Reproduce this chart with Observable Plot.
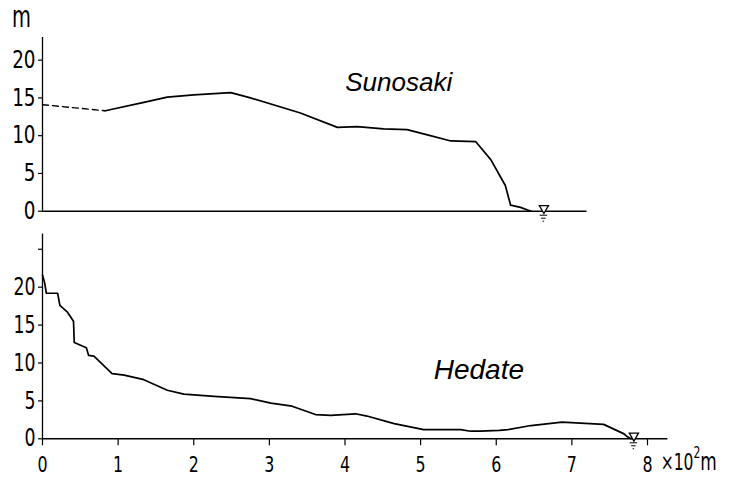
<!DOCTYPE html>
<html><head><meta charset="utf-8">
<script src="https://cdn.jsdelivr.net/npm/d3@7"></script>
<script src="https://cdn.jsdelivr.net/npm/@observablehq/plot@0.6"></script>
<style>
body{margin:0;background:#fff;}
#wrap{position:relative;width:741px;height:478px;}
#topPanel,#botPanel{position:absolute;left:0;}
#topPanel{top:0px}
#botPanel{top:230px}
.lbl{position:absolute;font-family:"DejaVu Sans Condensed","DejaVu Sans",sans-serif;color:#000;line-height:1;white-space:nowrap;}
</style></head><body>
<div id="wrap">
<div id="topPanel"></div><div id="botPanel"></div>
<div class="lbl" style="left:12px;top:2px;font-size:30px;transform-origin:left top;transform:scaleX(0.72);">m</div>
<div class="lbl" style="right:24px;top:449px;font-size:23px;line-height:26px;transform-origin:right top;transform:scaleX(0.75);"><span>×</span>10<span style="font-size:16px;position:relative;top:-12px;">2</span><span style="font-size:25px;">m</span></div>
</div>
<script>
// Sunosaki profile (x in 10^2 m, elevation in m)
const sunoDashX = [0, 0.83];
const sunoDashY = [14.1, 13.3];
const sunoX = [0.83, 1.34, 1.65, 2.0, 2.49, 2.75, 3.41, 3.90, 4.16, 4.51, 4.82, 5.09, 5.40, 5.73, 5.93, 6.12, 6.19, 6.32, 6.46];
const sunoY = [13.3, 14.4, 15.1, 15.4, 15.7, 15.0, 13.0, 11.1, 11.2, 10.9, 10.8, 10.1, 9.3, 9.2, 6.8, 3.4, 0.8, 0.5, 0.0];
const sunoSea = 6.63;
const sunoEnd = 7.2;

// Hedate profile
const hedX = [0, 0.03, 0.05, 0.20, 0.23, 0.33, 0.41, 0.42, 0.58, 0.61, 0.68, 0.92, 1.08, 1.34, 1.65, 1.87, 2.27, 2.75, 3.02, 3.30, 3.61, 3.81, 4.14, 4.29, 4.65, 5.04, 5.53, 5.66, 5.79, 6.04, 6.15, 6.46, 6.87, 7.42, 7.69, 7.73, 7.78];
const hedY = [21.6, 20.5, 19.2, 19.2, 17.6, 16.7, 15.5, 12.7, 12.0, 11.0, 10.9, 8.6, 8.4, 7.8, 6.4, 5.9, 5.6, 5.3, 4.7, 4.3, 3.2, 3.1, 3.3, 3.0, 2.0, 1.2, 1.2, 1.0, 1.0, 1.1, 1.2, 1.75, 2.2, 1.9, 0.65, 0.3, 0.0];
const hedSea = 7.82;
const hedEnd = 8.27;

const xTicks = [0, 1, 2, 3, 4, 5, 6, 7, 8];
const yTicks = [0, 5, 10, 15, 20];
const yTicksBottom = [0, 5, 10, 15, 20, 25];

const font = '"DejaVu Sans Condensed","DejaVu Sans",sans-serif';
const italicFont = '"Liberation Sans",Arial,sans-serif';
const pts = (X, Y) => X.map((x, i) => ({x, y: Y[i]}));

function seaMarks(sx) {
  const d = [{x: sx}];
  return [
    Plot.ruleY(d, {x1: d => d.x - 0.05, x2: d => d.x + 0.05, y: 0, dy: 4, stroke: "black", strokeWidth: 1}),
    Plot.ruleY(d, {x1: d => d.x - 0.03, x2: d => d.x + 0.03, y: 0, dy: 7, stroke: "black", strokeWidth: 1}),
    Plot.ruleY(d, {x1: d => d.x - 0.01, x2: d => d.x + 0.01, y: 0, dy: 10, stroke: "black", strokeWidth: 1}),
    Plot.dot(d, {x: "x", y: 0, dy: -3, symbol: "triangle", rotate: 180, r: 3.4, fill: "white", stroke: "black", strokeWidth: 1.3})
  ];
}

function narrow(svg, sx) {
  svg.querySelectorAll('g[aria-label$="tick label"] text').forEach(t => {
    const tr = t.getAttribute("transform") || "";
    t.setAttribute("transform", tr + ` scale(${sx},1)`);
  });
}

const topChart = Plot.plot({
  width: 741, height: 230,
  marginLeft: 42, marginRight: 94, marginTop: 37, marginBottom: 19.3,
  style: {fontFamily: font, background: "white", color: "black"},
  x: {domain: [0, 8], axis: null},
  y: {domain: [0, 23], axis: null},
  marks: [
    Plot.axisY({ticks: yTicks, tickSize: 4, tickPadding: 3, fontSize: 24, fontFamily: font, tickFormat: d => d, label: null, strokeWidth: 1.2}),
    Plot.ruleX([0], {y1: 0, y2: 23, stroke: "black", strokeWidth: 1.3}),
    Plot.ruleY([0], {x1: 0, x2: sunoEnd, stroke: "black", strokeWidth: 1.5}),
    Plot.line(pts(sunoDashX, sunoDashY), {x: "x", y: "y", stroke: "black", strokeWidth: 1.4, strokeDasharray: "6,4"}),
    Plot.line(pts(sunoX, sunoY), {x: "x", y: "y", stroke: "black", strokeWidth: 1.7}),
    ...seaMarks(sunoSea),
    Plot.text(["Sunosaki"], {x: 4.71, y: 17.0, text: d => d, fontSize: 26, fontStyle: "italic", fontFamily: italicFont, fill: "black"})
  ]
});
narrow(topChart, 0.85);
document.getElementById("topPanel").appendChild(topChart);

const botChart = Plot.plot({
  width: 741, height: 248,
  marginLeft: 42, marginRight: 94, marginTop: 3.6, marginBottom: 39.7,
  style: {fontFamily: font, background: "white", color: "black"},
  x: {domain: [0, 8], axis: null},
  y: {domain: [0, 27], axis: null},
  marks: [
    Plot.axisY({ticks: yTicksBottom, tickSize: 4, tickPadding: 3, fontSize: 24, fontFamily: font, tickFormat: d => d === 25 ? "" : d, label: null, strokeWidth: 1.2}),
    Plot.axisX({ticks: xTicks, tickSize: 7, tickPadding: 11, fontSize: 22, fontFamily: font, tickFormat: d => d, label: null, strokeWidth: 1.2}),
    Plot.ruleX([0], {y1: 0, y2: 27, stroke: "black", strokeWidth: 1.3}),
    Plot.ruleY([0], {x1: 0, x2: hedEnd, stroke: "black", strokeWidth: 1.5}),
    Plot.line(pts(hedX, hedY), {x: "x", y: "y", stroke: "black", strokeWidth: 1.7}),
    ...seaMarks(hedSea),
    Plot.text(["Hedate"], {x: 5.77, y: 9.1, text: d => d, fontSize: 28, fontStyle: "italic", fontFamily: italicFont, fill: "black", style: "letter-spacing:3.5px"})
  ]
});
narrow(botChart, 0.8);
document.getElementById("botPanel").appendChild(botChart);
</script>
</body></html>
